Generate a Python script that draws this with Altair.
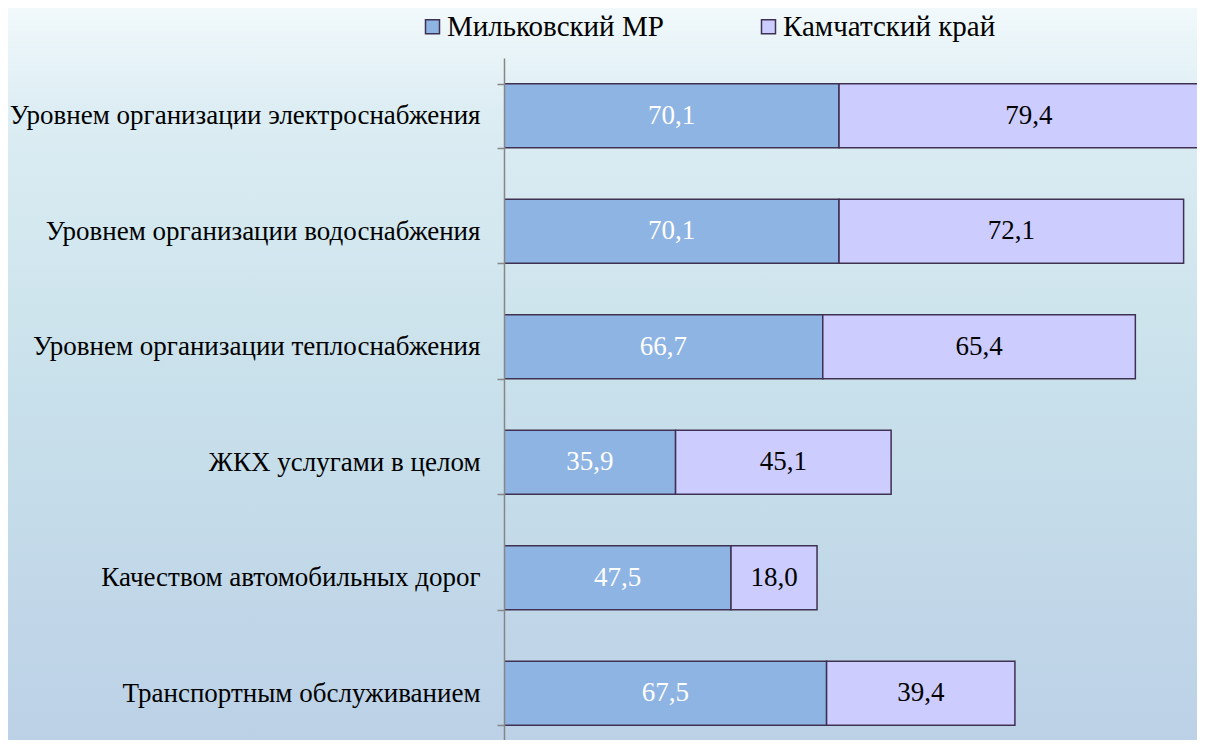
import altair as alt
import pandas as pd

categories = [
    "Уровнем организации электроснабжения",
    "Уровнем организации водоснабжения",
    "Уровнем организации теплоснабжения",
    "ЖКХ услугами в целом",
    "Качеством автомобильных дорог",
    "Транспортным обслуживанием",
]
series_names = ["Мильковский МР", "Камчатский край"]
milkovo = [70.1, 70.1, 66.7, 35.9, 47.5, 67.5]
kamchatka = [79.4, 72.1, 65.4, 45.1, 18.0, 39.4]
colors = ["#8EB4E3", "#CCCCFF"]
label_colors = ["#FFFFFF", "#000000"]

rows = []
for i, c in enumerate(categories):
    for j, (s, vals) in enumerate(zip(series_names, [milkovo, kamchatka])):
        v = vals[i]
        rows.append({"cat": c, "series": s, "order": j, "value": v,
                     "label": f"{v:.1f}".replace(".", ","), "lc": label_colors[j]})
df = pd.DataFrame(rows)

W = 693
H = 682
FONT = "Liberation Serif"

bg = alt.Chart(pd.DataFrame({"a": [0]})).mark_rect(
    color=alt.LinearGradient(
        gradient="linear",
        stops=[
            alt.GradientStop(color="#F3FAFC", offset=0),
            alt.GradientStop(color="#DCEDF3", offset=0.15),
            alt.GradientStop(color="#C9E1EB", offset=0.5),
            alt.GradientStop(color="#BBD0E6", offset=1),
        ],
        x1=0, x2=0, y1=0, y2=1,
    )
).encode(
    x=alt.value(-500), x2=alt.value(W + 20),
    y=alt.value(-60), y2=alt.value(H + 20),
)

yscale = alt.Scale(domain=categories, range=[0, 693], paddingInner=0.445, paddingOuter=0.2225)
xscale = alt.Scale(domain=[0, 145.0], nice=False, zero=True)

yaxis = alt.Axis(orient="left", tickBand="extent", domainColor="#868686",
                 domainWidth=1.5, tickColor="#868686", tickWidth=1.5,
                 tickSize=7, labelFont=FONT, labelFontSize=27,
                 labelColor="#000000", labelPadding=17, labelLimit=600,
                 title=None, zindex=1)

base = alt.Chart(df).transform_stack(
    stack="value", groupby=["cat"], as_=["x0", "x1"],
    sort=[alt.SortField("order", "ascending")]
).transform_calculate(mid="(datum.x0 + datum.x1) / 2")

bars = base.mark_bar(stroke="#3F3151", strokeWidth=1.5, clip=True).encode(
    y=alt.Y("cat:N", scale=yscale, sort=categories, title=None, axis=yaxis),
    x=alt.X("x0:Q", scale=xscale, axis=None),
    x2="x1:Q",
    color=alt.Color("series:N", scale=alt.Scale(domain=series_names, range=colors),
                    legend=alt.Legend(title=None, orient="none", direction="horizontal",
                                      legendX=-86, legendY=-46, symbolType="square",
                                      symbolSize=196, symbolStrokeColor="#3F3151",
                                      symbolStrokeWidth=1.5, labelFont=FONT,
                                      labelFontSize=29, labelColor="#000000",
                                      labelOffset=0, columnPadding=90,
                                      labelLimit=400)),
    order=alt.Order("order:Q"),
)

texts = base.mark_text(font=FONT, fontSize=27, baseline="middle", align="center").encode(
    y=alt.Y("cat:N", scale=yscale, sort=categories, title=None, axis=yaxis),
    x=alt.X("mid:Q", scale=xscale, axis=None),
    text="label:N",
    color=alt.Color("lc:N", scale=None),
)

chart = alt.layer(bg, bars, texts).properties(
    width=W, height=H,
    autosize=alt.AutoSizeParams(type="none"),
    padding={"left": 496, "top": 50, "right": 0, "bottom": 0},
).configure_view(stroke=None).configure(background="#FFFFFF")

chart.save("out.html", embed_options={"renderer": "svg", "actions": False})
